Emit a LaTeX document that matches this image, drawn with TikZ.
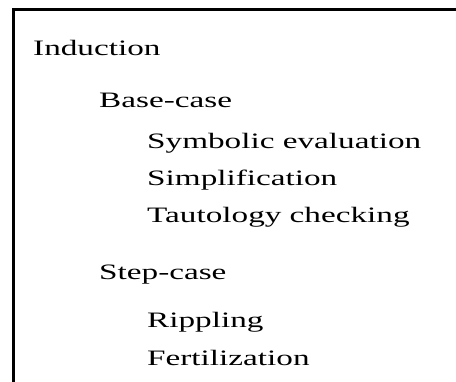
\documentclass[tikz,border=0pt]{standalone}
\usepackage{fontspec}
\usepackage{graphicx}
\setmainfont{Liberation Serif}
% wide-set outline text
\newcommand{\widetext}[1]{\scalebox{1.51}[1]{#1}}
\begin{document}
\begin{tikzpicture}[x=1pt,y=1pt,
  item/.style={anchor=base west, inner sep=0pt, font=\fontsize{22}{26}\selectfont},
  frame/.style={line width=3pt, line cap=rect}]
\useasboundingbox (0,0) rectangle (456,381);
% frame: top and left edges
\coordinate (tl) at (13.5,371);
\coordinate (tr) at (458,371);
\coordinate (bl) at (13.5,-2);
\draw[frame] (bl) -- (tl) -- (tr);
% outline entries
\node[item] (ind)  at (33,325) {\widetext{Induction}};
\node[item] (base) at (99,273) {\widetext{Base-case}};
\node[item] (sym)  at (147,232) {\widetext{Symbolic evaluation}};
\node[item] (simp) at (147,195) {\widetext{Simplification}};
\node[item] (taut) at (147,158) {\widetext{Tautology checking}};
\node[item] (step) at (99,102) {\widetext{Step-case}};
\node[item] (rip)  at (147,54) {\widetext{Rippling}};
\node[item] (fert) at (147,16) {\widetext{Fertilization}};
\end{tikzpicture}
\end{document}
